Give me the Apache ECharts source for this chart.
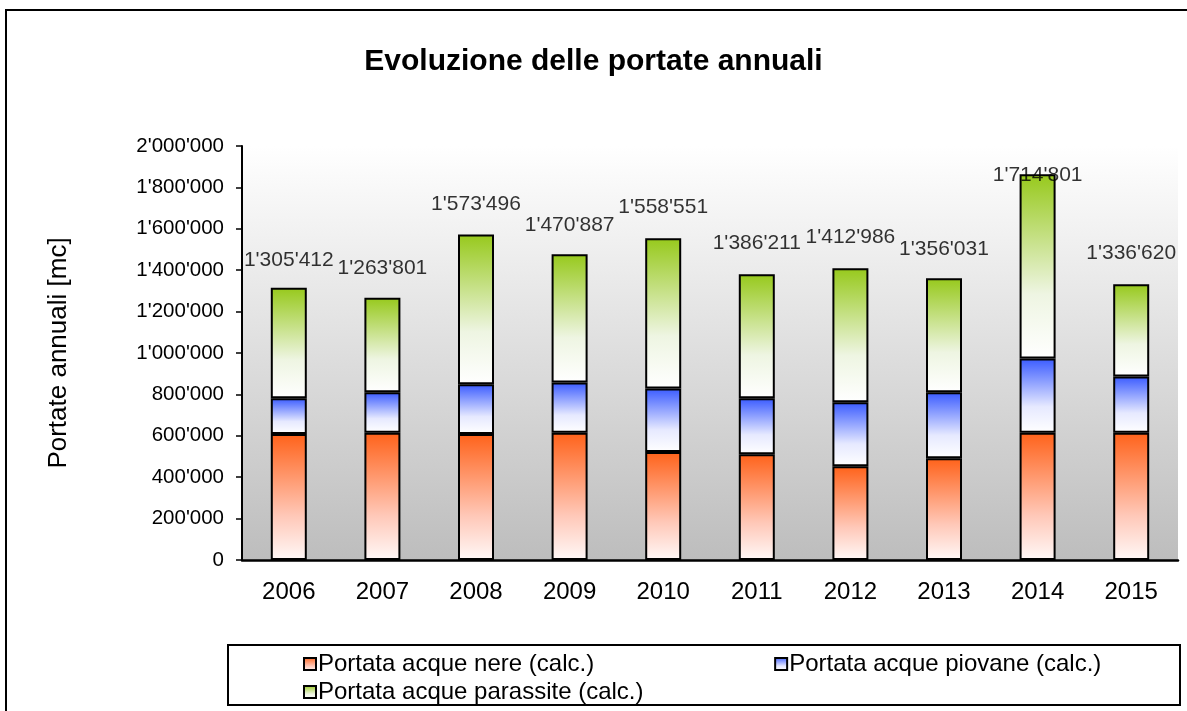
<!DOCTYPE html>
<html>
<head>
<meta charset="utf-8">
<title>Evoluzione delle portate annuali</title>
<script src="https://cdn.jsdelivr.net/npm/echarts@6/dist/echarts.min.js"></script>
<style>
  html, body { margin: 0; padding: 0; background: #fff; }
  #chart { width: 1187px; height: 711px; }
</style>
</head>
<body>
<div id="chart"></div>
<script>
// anni
const years = ['2006', '2007', '2008', '2009', '2010', '2011', '2012', '2013', '2014', '2015'];
// portata acque nere (calc.)
const nere = [608700, 615000, 608700, 615000, 521700, 510600, 452500, 491000, 615000, 615000];
// portata acque piovane (calc.)
const piovane = [172300, 195000, 240300, 243000, 307300, 270400, 309500, 319000, 359000, 272000];
// portata acque parassite (calc.)
const parassite = [534000, 457000, 724000, 619000, 725000, 599000, 647000, 551000, 889000, 445000];
// totali riportati sopra le colonne
const totali = [1305412, 1263801, 1573496, 1470887, 1558551, 1386211, 1412986, 1356031, 1714801, 1336620];

const FONT = '"Liberation Sans", Arial, sans-serif';

// 1234567 -> 1'234'567
const fmt = v => String(Math.round(v)).replace(/\B(?=(\d{3})+(?!\d))/g, "'");

const grad = (top, mid, bottom) =>
  new echarts.graphic.LinearGradient(0, 0, 0, 1, [
    { offset: 0, color: top },
    { offset: 0.65, color: mid },
    { offset: 1, color: bottom }
  ]);

const barStyle = fill => ({
  color: fill,
  borderColor: '#000',
  borderWidth: 2
});

const legendText = { fontSize: 24, color: '#000', fontFamily: FONT, padding: [0, 0, 0, -3] };

var myChart = echarts.init(document.getElementById('chart'));

const options = {
  animation: false,
  textStyle: { fontFamily: FONT },
  title: {
    text: 'Evoluzione delle portate annuali',
    left: 'center',
    top: 42,
    textStyle: { fontSize: 30, fontWeight: 'bold', color: '#000', fontFamily: FONT }
  },
  legend: [
    {
      data: ['Portata acque nere (calc.)', 'Portata acque piovane (calc.)'],
      left: 298,
      top: 647,
      icon: 'rect',
      itemWidth: 12,
      itemHeight: 12,
      itemGap: 180,
      textStyle: legendText
    },
    {
      data: ['Portata acque parassite (calc.)'],
      left: 298,
      top: 675,
      icon: 'rect',
      itemWidth: 12,
      itemHeight: 12,
      textStyle: legendText
    }
  ],
  graphic: [
    {
      type: 'rect',
      shape: { x: 6, y: 10, width: 1200, height: 720 },
      style: { fill: 'none', stroke: '#000', lineWidth: 2 },
      silent: true
    },
    {
      type: 'rect',
      shape: { x: 228, y: 645, width: 952, height: 60 },
      style: { fill: 'none', stroke: '#000', lineWidth: 2 },
      silent: true
    }
  ],
  grid: {
    left: 242,
    right: 9,
    top: 146,
    bottom: 151,
    show: true,
    borderWidth: 0,
    backgroundColor: new echarts.graphic.LinearGradient(0, 0, 0, 1, [
      { offset: 0, color: '#ffffff' },
      { offset: 1, color: '#bdbdbd' }
    ])
  },
  xAxis: {
    type: 'category',
    data: years,
    axisLine: { lineStyle: { color: '#000', width: 2.5 } },
    axisTick: { length: 7, lineStyle: { color: '#000', width: 1.5 } },
    axisLabel: { fontSize: 24, color: '#000', margin: 20, fontFamily: FONT }
  },
  yAxis: {
    type: 'value',
    min: 0,
    max: 2000000,
    interval: 200000,
    name: 'Portate annuali [mc]',
    nameLocation: 'middle',
    nameGap: 170,
    nameTextStyle: { fontSize: 26, color: '#000', fontFamily: FONT },
    axisLine: { show: true, lineStyle: { color: '#000', width: 2 } },
    axisTick: { show: true, length: 6, lineStyle: { color: '#000', width: 1.5 } },
    splitLine: { show: false },
    axisLabel: {
      fontSize: 20.5,
      color: '#000',
      margin: 18,
      fontFamily: FONT,
      formatter: fmt
    }
  },
  series: [
    {
      name: 'Portata acque nere (calc.)',
      type: 'bar',
      stack: 'tot',
      barWidth: 36,
      data: nere,
      itemStyle: barStyle(grad('#ff621a', '#ffc8b8', '#fff8f7'))
    },
    {
      name: 'Portata acque piovane (calc.)',
      type: 'bar',
      stack: 'tot',
      barWidth: 36,
      data: piovane,
      itemStyle: barStyle(grad('#3a5bff', '#e6e9ff', '#ffffff'))
    },
    {
      name: 'Portata acque parassite (calc.)',
      type: 'bar',
      stack: 'tot',
      barWidth: 36,
      data: parassite,
      itemStyle: barStyle(grad('#97c91c', '#eef5e2', '#ffffff'))
    },
    {
      // etichette dei totali
      name: 'totale',
      type: 'scatter',
      data: totali,
      symbolSize: 1,
      itemStyle: { color: 'rgba(0,0,0,0)' },
      silent: true,
      z: 5,
      label: {
        show: true,
        position: 'top',
        distance: 19,
        fontSize: 21,
        color: '#000',
        fontFamily: FONT,
        formatter: p => fmt(p.value)
      }
    }
  ]
};

myChart.setOption(options, true);
</script>
</body>
</html>
